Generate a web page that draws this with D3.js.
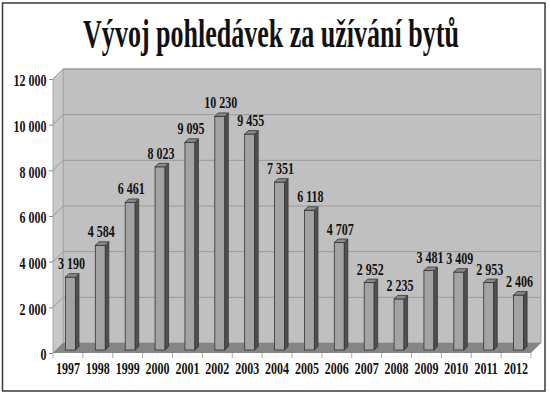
<!DOCTYPE html>
<html lang="cs">
<head>
  <meta charset="UTF-8">
  <title>Vývoj pohledávek za užívání bytů</title>
  <script src="https://d3js.org/d3.v7.min.js"></script>
  <style>
    body { margin: 0; background: #fff; }
    text { font-family: "Liberation Serif", "Times New Roman", serif; font-weight: bold; fill: #111; }
  </style>
</head>
<body>
  <div id="chart"></div>
  <script>
    const years = ["1997", "1998", "1999", "2000", "2001", "2002", "2003", "2004",
      "2005", "2006", "2007", "2008", "2009", "2010", "2011", "2012"];
    const values = [3190, 4584, 6461, 8023, 9095, 10230, 9455, 7351,
      6118, 4707, 2952, 2235, 3481, 3409, 2953, 2406];
    const yTicks = [0, 2000, 4000, 6000, 8000, 10000, 12000];

    const width = 550, height = 395;
    // front plane of the 3D plot box + depth offset
    const fx0 = 53, fx1 = 531, fy0 = 353, fy1 = 79;
    const dep = 10;
    const barW = 10, barD = 3.5, barShift = 2.5, sx = 0.75;
    const fs = "16px";

    const fmt = d3.formatLocale({ decimal: ",", thousands: " ", grouping: [3], currency: ["", ""] }).format(",d");

    const svg = d3.select("#chart").append("svg")
      .attr("width", width).attr("height", height);

    // outer border
    svg.append("rect")
      .attr("x", 2.5).attr("y", 3).attr("width", 542.5).attr("height", 388)
      .attr("fill", "#fff").attr("stroke", "#3a3a3a").attr("stroke-width", 1.5);

    // title, squeezed horizontally to the width seen in the picture
    const title = svg.append("text")
      .attr("text-anchor", "middle")
      .style("font-size", "39px")
      .text("Vývoj pohledávek za užívání bytů");
    const tw = title.node().getComputedTextLength();
    title.attr("transform", `translate(271,47) scale(${376 / tw},1)`);

    const x = d3.scaleBand().domain(years).range([fx0, fx1]);
    const y = d3.scaleLinear().domain([0, 12000]).range([fy0, fy1]);

    const poly = pts => pts.map(p => p.join(",")).join(" ");

    // walls and floor
    svg.append("polygon")
      .attr("points", poly([[fx0 + dep, fy1 - dep], [fx1 + dep, fy1 - dep], [fx1 + dep, fy0 - dep], [fx0 + dep, fy0 - dep]]))
      .attr("fill", "#c0c0c0").attr("stroke", "#9a9a9a").attr("stroke-width", 1);
    svg.append("polygon")
      .attr("points", poly([[fx0, fy1], [fx0 + dep, fy1 - dep], [fx0 + dep, fy0 - dep], [fx0, fy0]]))
      .attr("fill", "#c8c8c8").attr("stroke", "#a8a8a8").attr("stroke-width", 1);

    // gridlines on back and side wall
    const grid = svg.append("g").attr("stroke", "#999").attr("stroke-width", 1).attr("fill", "none");
    yTicks.filter(t => t > 0).forEach(t => {
      grid.append("polyline")
        .attr("points", poly([[fx0, y(t)], [fx0 + dep, y(t) - dep], [fx1 + dep, y(t) - dep]]));
    });

    svg.append("polygon")
      .attr("points", poly([[fx0, fy0], [fx0 + dep, fy0 - dep], [fx1 + dep, fy0 - dep], [fx1, fy0]]))
      .attr("fill", "#858585");

    // y axis
    const yAxis = svg.append("g")
      .attr("transform", `translate(${fx0},0)`)
      .call(d3.axisLeft(y).tickValues(yTicks).tickFormat(fmt).tickSize(4).tickPadding(6));
    yAxis.select(".domain").remove();
    yAxis.selectAll(".tick line").attr("stroke", "#888");
    yAxis.selectAll(".tick text")
      .attr("x", -6.5 / sx).attr("dy", "0.42em")
      .attr("transform", `scale(${sx},1)`)
      .style("font-size", fs).style("font-family", null);

    // x axis
    const xAxis = svg.append("g")
      .attr("transform", `translate(0,${fy0})`)
      .call(d3.axisBottom(x).tickSize(0).tickPadding(0));
    xAxis.select(".domain").remove();
    xAxis.selectAll(".tick text")
      .attr("y", 21.5).attr("dy", 0)
      .attr("transform", `scale(${sx},1)`)
      .style("font-size", fs).style("font-family", null);
    xAxis.selectAll(".sep")
      .data(d3.range(years.length + 1))
      .join("line")
      .attr("x1", i => fx0 + i * x.step()).attr("x2", i => fx0 + i * x.step())
      .attr("y1", 0).attr("y2", 5)
      .attr("stroke", "#aaa");

    // bars
    const bars = svg.append("g").selectAll("g")
      .data(years.map((yr, i) => ({ yr, v: values[i] })))
      .join("g");

    const bx = d => x(d.yr) + x.bandwidth() / 2 - barW / 2 + barShift;
    const base = y(0) - 3;
    const by = d => y(d.v) - 3;

    bars.append("rect")
      .attr("x", bx).attr("y", by)
      .attr("width", barW).attr("height", d => base - by(d))
      .attr("fill", "#a3a3a3").attr("stroke", "#333").attr("stroke-width", 0.8);
    bars.append("polygon")
      .attr("points", d => poly([[bx(d) + barW, by(d)], [bx(d) + barW + barD, by(d) - barD],
        [bx(d) + barW + barD, base - barD], [bx(d) + barW, base]]))
      .attr("fill", "#505050").attr("stroke", "#333").attr("stroke-width", 0.8);
    bars.append("polygon")
      .attr("points", d => poly([[bx(d), by(d)], [bx(d) + barD, by(d) - barD],
        [bx(d) + barW + barD, by(d) - barD], [bx(d) + barW, by(d)]]))
      .attr("fill", "#8a8a8a").attr("stroke", "#333").attr("stroke-width", 0.8);

    bars.append("text")
      .attr("transform", d => `translate(${x(d.yr) + x.bandwidth() / 2 + 3.5},${by(d) - 8}) scale(${sx},1)`)
      .attr("text-anchor", "middle")
      .style("font-size", fs)
      .text(d => fmt(d.v));
  </script>
</body>
</html>
